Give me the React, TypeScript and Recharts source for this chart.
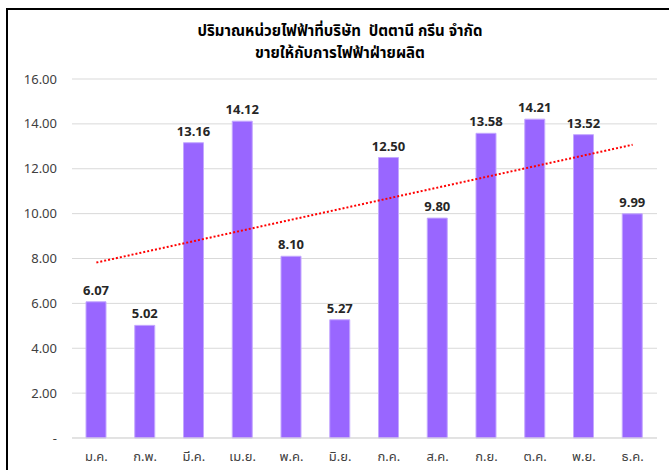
import React from "react";
import {
  Bar,
  CartesianGrid,
  ComposedChart,
  LabelList,
  ReferenceLine,
  XAxis,
  YAxis,
} from "recharts";

const MONTHS = [
  "ม.ค.",
  "ก.พ.",
  "มี.ค.",
  "เม.ย.",
  "พ.ค.",
  "มิ.ย.",
  "ก.ค.",
  "ส.ค.",
  "ก.ย.",
  "ต.ค.",
  "พ.ย.",
  "ธ.ค.",
];

const UNITS = [6.07, 5.02, 13.16, 14.12, 8.1, 5.27, 12.5, 9.8, 13.58, 14.21, 13.52, 9.99];

// linear trend, start and end values
const TREND = [7.82, 13.07];

const Y_TICKS = [0, 2, 4, 6, 8, 10, 12, 14, 16];

const TITLE = ["ปริมาณหน่วยไฟฟ้าที่บริษัท  ปัตตานี กรีน จำกัด", "ขายให้กับการไฟฟ้าฝ่ายผลิต"];

const FONT = "Tahoma, 'Noto Sans Thai', 'Leelawadee UI', 'DejaVu Sans', sans-serif";

const data = MONTHS.map((m, i) => ({ month: m, units: UNITS[i] }));

export default function App() {
  return (
    <div
      style={{
        position: "absolute",
        left: 0,
        top: 0,
        width: 669,
        height: 470,
        background: "#fff",
        fontFamily: FONT,
        overflow: "hidden",
      }}
    >
      <div
        style={{
          position: "absolute",
          left: 6,
          top: 8,
          width: 700,
          height: 500,
          borderLeft: "2px solid #000",
          borderTop: "2px solid #000",
        }}
      />
      <div
        style={{
          position: "absolute",
          left: 0,
          top: 21,
          width: 680,
          textAlign: "center",
          fontWeight: "bold",
          fontSize: 15,
          lineHeight: "22px",
          color: "#000",
          whiteSpace: "pre",
        }}
      >
        {TITLE.map((t) => (
          <div key={t}>{t}</div>
        ))}
      </div>
      <ComposedChart
        width={669}
        height={470}
        data={data}
        margin={{ top: 79, right: 12, bottom: 2, left: 0 }}
        barSize={20}
        style={{ position: "absolute", left: 0, top: 0 }}
      >
        <CartesianGrid vertical={false} stroke="#D9D9D9" />
        <XAxis
          dataKey="month"
          height={30}
          tickLine={false}
          axisLine={{ stroke: "#D9D9D9" }}
          tickMargin={8}
          tick={{ fill: "#404040", fontSize: 13, fontFamily: FONT }}
          interval={0}
        />
        <YAxis
          width={72}
          domain={[0, 16]}
          ticks={Y_TICKS}
          tickLine={false}
          axisLine={false}
          tickMargin={9}
          tick={{ fill: "#404040", fontSize: 13, fontFamily: FONT }}
          tickFormatter={(v: number) => (v === 0 ? "-" : v.toFixed(2))}
        />
        <Bar dataKey="units" fill="#9966FF" stroke="#C4A8FF" strokeWidth={1} isAnimationActive={false}>
          <LabelList
            dataKey="units"
            position="top"
            offset={7}
            formatter={(v: number) => Number(v).toFixed(2)}
            style={{ fill: "#262626", fontSize: 13, fontWeight: "bold", fontFamily: FONT }}
          />
        </Bar>
        <ReferenceLine
          segment={[
            { x: MONTHS[0], y: TREND[0] },
            { x: MONTHS[MONTHS.length - 1], y: TREND[1] },
          ]}
          stroke="#FF0000"
          strokeWidth={2}
          strokeDasharray="2 2"
        />
      </ComposedChart>
    </div>
  );
}
